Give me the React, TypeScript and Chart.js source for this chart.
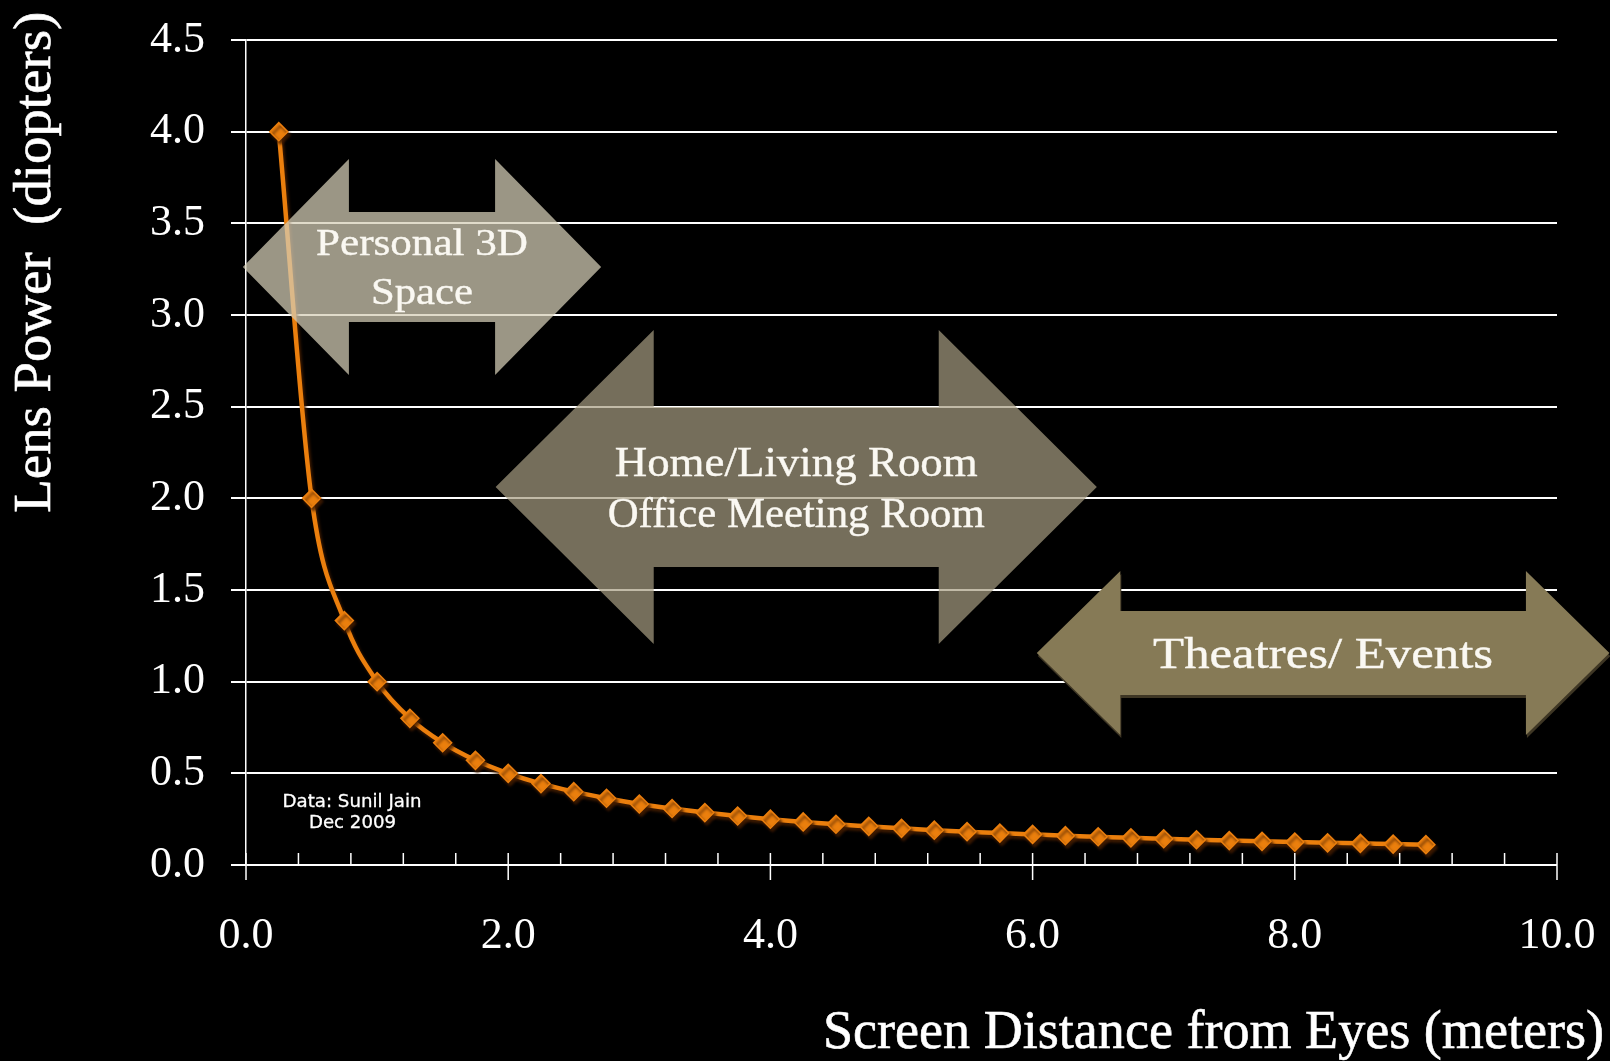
import React, { useEffect, useRef } from "react";
import { Chart, registerables } from "chart.js";

Chart.register(...registerables);

// Viewing distance (m) and the lens power (diopters) needed to focus at it
const distances = [
  0.25, 0.5, 0.75, 1.0, 1.25, 1.5, 1.75, 2.0, 2.25, 2.5, 2.75, 3.0,
  3.25, 3.5, 3.75, 4.0, 4.25, 4.5, 4.75, 5.0, 5.25, 5.5, 5.75, 6.0,
  6.25, 6.5, 6.75, 7.0, 7.25, 7.5, 7.75, 8.0, 8.25, 8.5, 8.75, 9.0,
];
const lensPower = [
  4.0, 2.0, 1.333, 1.0, 0.8, 0.667, 0.571, 0.5, 0.444, 0.4, 0.364, 0.333,
  0.308, 0.286, 0.267, 0.25, 0.235, 0.222, 0.211, 0.2, 0.19, 0.182, 0.174, 0.167,
  0.16, 0.154, 0.148, 0.143, 0.138, 0.133, 0.129, 0.125, 0.121, 0.118, 0.114, 0.111,
];

const xAxisTitle = "Screen Distance from Eyes (meters)";
const yAxisTitle = "Lens Power  (diopters)";
const sourceNote = ["Data: Sunil Jain", "Dec 2009"];
const zoneLabels = [
  ["Personal 3D", "Space"],
  ["Home/Living Room", "Office Meeting Room"],
  ["Theatres/ Events"],
];

// Geometry of the double-headed zone arrows, in axis units (meters / diopters)
const zoneShapes = [
  { from: -0.024, to: 2.709, head: 0.809, level: 3.262, headHalf: 0.589, shaftHalf: 0.3 },
  { from: 1.904, to: 6.49, head: 1.206, level: 2.062, headHalf: 0.856, shaftHalf: 0.436 },
  { from: 6.032, to: 10.4, head: 0.637, level: 1.156, headHalf: 0.447, shaftHalf: 0.229 },
];

// Drawing style of each zone arrow and its caption
const zoneStyles = [
  { fill: "rgba(212,205,182,0.73)", shadow: false, font: 38, lineGap: 48.5, widths: [212, 102] },
  { fill: "rgba(167,157,129,0.70)", shadow: false, font: 43, lineGap: 50.7, widths: [363, 377] },
  { fill: "rgb(134,122,86)", shadow: true, font: 44, lineGap: 0, widths: [340] },
];

const SERIF = '"Liberation Serif", "Times New Roman", serif';
const ORANGE = "#EB7F0D";

// Draws text stretched horizontally to a given width
function fitText(
  ctx: CanvasRenderingContext2D,
  text: string,
  x: number,
  baseline: number,
  width: number,
  font: string,
  align: CanvasTextAlign,
  rotate = 0,
  weight = 0
) {
  ctx.save();
  ctx.font = font;
  const natural = ctx.measureText(text).width || 1;
  ctx.translate(x, baseline);
  if (rotate) ctx.rotate(rotate);
  ctx.scale(width / natural, 1);
  ctx.textAlign = align;
  ctx.textBaseline = "alphabetic";
  ctx.fillText(text, 0, 0);
  if (weight > 0) {
    ctx.lineWidth = weight;
    ctx.strokeStyle = ctx.fillStyle as string;
    ctx.strokeText(text, 0, 0);
  }
  ctx.restore();
}

const lineShadow = {
  id: "lineShadow",
  beforeDatasetDraw(chart: any) {
    const c = chart.ctx;
    c.save();
    c.shadowColor = "rgba(70,30,0,0.9)";
    c.shadowOffsetX = 2;
    c.shadowOffsetY = 3;
    c.shadowBlur = 3;
  },
  afterDatasetDraw(chart: any) {
    chart.ctx.restore();
  },
};

const zoneArrows = {
  id: "zoneArrows",
  afterDatasetsDraw(chart: any) {
    const { ctx } = chart;
    const xs = chart.scales.x;
    const ys = chart.scales.y;
    zoneShapes.forEach((z, i) => {
      const st = zoneStyles[i];
      const xl = xs.getPixelForValue(z.from);
      const xr = xs.getPixelForValue(z.to);
      const hl = xs.getPixelForValue(z.from + z.head) - xl;
      const yc = ys.getPixelForValue(z.level);
      const hh = ys.getPixelForValue(z.level - z.headHalf) - yc;
      const sh = ys.getPixelForValue(z.level - z.shaftHalf) - yc;
      ctx.save();
      if (st.shadow) {
        ctx.shadowColor = "rgba(62,54,36,1)";
        ctx.shadowOffsetX = 1;
        ctx.shadowOffsetY = 3;
      }
      ctx.beginPath();
      ctx.moveTo(xl, yc);
      ctx.lineTo(xl + hl, yc - hh);
      ctx.lineTo(xl + hl, yc - sh);
      ctx.lineTo(xr - hl, yc - sh);
      ctx.lineTo(xr - hl, yc - hh);
      ctx.lineTo(xr, yc);
      ctx.lineTo(xr - hl, yc + hh);
      ctx.lineTo(xr - hl, yc + sh);
      ctx.lineTo(xl + hl, yc + sh);
      ctx.lineTo(xl + hl, yc + hh);
      ctx.closePath();
      ctx.fillStyle = st.fill;
      ctx.fill();
      ctx.restore();

      // caption, centred on the arrow
      const lines = zoneLabels[i];
      const cx = (xl + xr) / 2;
      const cap = st.font * 0.662;
      ctx.fillStyle = "#FAF8F2";
      lines.forEach((t, j) => {
        const mid = yc + (j - (lines.length - 1) / 2) * st.lineGap;
        fitText(ctx, t, cx, mid + cap / 2, st.widths[j], `${st.font}px ${SERIF}`, "center", 0, 0.4);
      });
    });
  },
};

const axisDecor = {
  id: "axisDecor",
  afterDraw(chart: any) {
    const { ctx, chartArea } = chart;
    const xs = chart.scales.x;
    const base = chartArea.bottom;

    // x-axis tick marks: minor ones inside, major ones crossing the axis
    ctx.save();
    ctx.strokeStyle = "#FFFFFF";
    ctx.lineWidth = 1.5;
    xs.ticks.forEach((t: any) => {
      const px = xs.getPixelForValue(t.value);
      const major = Math.abs(t.value / 2 - Math.round(t.value / 2)) < 1e-6;
      ctx.beginPath();
      ctx.moveTo(px, base - 12);
      ctx.lineTo(px, major ? base + 15 : base);
      ctx.stroke();
    });
    ctx.restore();

    ctx.save();
    ctx.fillStyle = "#FFFFFF";
    // axis titles
    fitText(ctx, xAxisTitle, 823, 1048, 781, `54px ${SERIF}`, "left", 0, 0.6);
    fitText(ctx, yAxisTitle, 50, 512.7, 501, `53px ${SERIF}`, "left", -Math.PI / 2, 0.6);
    // source note
    const noteFont = '18px "DejaVu Sans", "Liberation Sans", sans-serif';
    fitText(ctx, sourceNote[0], 352, 807.3, 139, noteFont, "center", 0, 0.3);
    fitText(ctx, sourceNote[1], 352.5, 828.3, 87, noteFont, "center", 0, 0.3);
    ctx.restore();
  },
};

export default function App() {
  const canvasRef = useRef<HTMLCanvasElement | null>(null);

  useEffect(() => {
    document.documentElement.style.background = "#000";
    document.body.style.margin = "0";
    document.body.style.background = "#000";
    const canvas = canvasRef.current;
    if (!canvas) return;

    const tickFont = { family: SERIF, size: 44 };
    const chart = new Chart(canvas, {
      type: "scatter",
      data: {
        datasets: [
          {
            label: "Lens power",
            data: distances.map((d, i) => ({ x: d, y: lensPower[i] })),
            showLine: true,
            borderColor: ORANGE,
            backgroundColor: ORANGE,
            borderWidth: 4.5,
            cubicInterpolationMode: "monotone",
            pointStyle: "rectRot",
            pointRadius: 9,
            pointBorderWidth: 1.5,
            pointBorderColor: ORANGE,
            pointBackgroundColor: ORANGE,
          },
        ],
      },
      options: {
        responsive: false,
        animation: false,
        devicePixelRatio: 1,
        events: [],
        layout: { autoPadding: false, padding: { top: 40, right: 53, left: 0, bottom: 0 } },
        plugins: {
          legend: { display: false },
          tooltip: { enabled: false },
          title: { display: false },
        },
        scales: {
          x: {
            type: "linear",
            min: 0,
            max: 10,
            afterFit: (s: any) => {
              s.height = 196;
              s.paddingLeft = 0;
              s.paddingRight = 0;
            },
            grid: { display: false, drawTicks: false },
            border: { display: false },
            ticks: {
              stepSize: 0.4,
              autoSkip: false,
              maxRotation: 0,
              minRotation: 0,
              padding: 45,
              color: "#FFFFFF",
              font: tickFont,
              callback: (v: any) => {
                const n = Number(v);
                return Math.abs(n / 2 - Math.round(n / 2)) < 1e-6 ? n.toFixed(1) : "";
              },
            },
          },
          y: {
            type: "linear",
            min: 0,
            max: 4.5,
            afterFit: (s: any) => {
              s.width = 246;
              s.paddingTop = 0;
              s.paddingBottom = 0;
            },
            grid: { color: "#FFFFFF", lineWidth: 2, drawTicks: true, tickLength: 15 },
            border: { display: true, color: "#FFFFFF", width: 1.5 },
            ticks: {
              stepSize: 0.5,
              padding: 26,
              color: "#FFFFFF",
              font: tickFont,
              callback: (v: any) => Number(v).toFixed(1),
            },
          },
        },
      },
      plugins: [lineShadow, zoneArrows, axisDecor],
    } as any);

    return () => chart.destroy();
  }, []);

  return (
    <div style={{ width: 1610, height: 1061, background: "#000" }}>
      <canvas ref={canvasRef} width={1610} height={1061} style={{ display: "block" }} />
    </div>
  );
}
